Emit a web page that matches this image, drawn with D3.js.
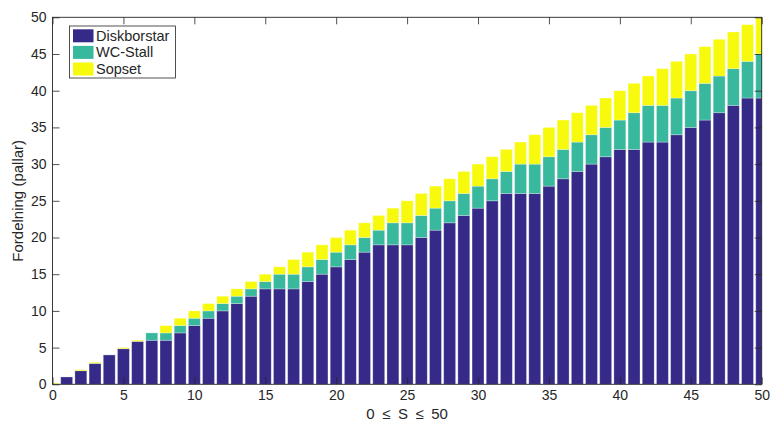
<!DOCTYPE html>
<html>
<head>
<meta charset="utf-8">
<script src="https://cdn.jsdelivr.net/npm/d3@7/dist/d3.min.js"></script>
<style>
  html, body { margin: 0; padding: 0; background: #fff; }
  svg { display: block; }
  text { font-family: "Liberation Sans", Arial, Helvetica, sans-serif; fill: #262626; }
</style>
</head>
<body>
<svg id="chart" width="772" height="424"></svg>
<script>
// ---- data ----
const categories = [0,1,2,3,4,5,6,7,8,9,10,11,12,13,14,15,16,17,18,19,20,21,22,23,24,25,26,27,28,29,30,31,32,33,34,35,36,37,38,39,40,41,42,43,44,45,46,47,48,49,50];
const diskborstar = [0,1,1.85,2.85,4,4.85,5.85,6,6,7,8,9,10,11,12,13,13,13,14,15,16,17,18,19,19,19,20,21,22,23,24,25,26,26,26,27,28,29,30,31,32,32,33,33,34,35,36,37,38,39,39];
const wcStall     = [0,0,0,0,0,0,0,1,1,1,1,1,1,1,1,1,2,2,2,2,2,2,2,2,3,3,3,3,3,3,3,3,3,4,4,4,4,4,4,4,4,5,5,5,5,5,5,5,5,5,6];
const sopset      = [0.15,0,0.15,0.15,0,0.15,0.15,0,1,1,1,1,1,1,1,1,1,2,2,2,2,2,2,2,2,3,3,3,3,3,3,3,3,3,4,4,4,4,4,4,4,4,4,5,5,5,5,5,5,5,5];
const seriesNames = ["Diskborstar", "WC-Stall", "Sopset"];
const seriesColors = ["#352a87", "#38b89d", "#f8fa0d"];
const xTicks = [0,5,10,15,20,25,30,35,40,45,50];
const yTicks = [0,5,10,15,20,25,30,35,40,45,50];

// ---- layout ----
const svg = d3.select("#chart");
const L = 52.5, R = 761.7, T = 17.3, B = 384.3;
const x = d3.scaleLinear().domain([0, 50]).range([L, R]);
const y = d3.scaleLinear().domain([0, 50]).range([B, T]);
const barW = 0.84;

const rows = categories.map((c, i) => ({ s: c, Diskborstar: diskborstar[i], "WC-Stall": wcStall[i], Sopset: sopset[i] }));
const stacked = d3.stack().keys(seriesNames)(rows);

svg.append("defs").append("clipPath").attr("id", "clip")
  .append("rect").attr("x", L).attr("y", T).attr("width", R - L).attr("height", B - T);

const g = svg.append("g").attr("clip-path", "url(#clip)");
stacked.forEach((layer, k) => {
  g.append("g").selectAll("rect").data(layer).join("rect")
    .attr("x", d => x(d.data.s - barW / 2))
    .attr("width", x(barW) - x(0))
    .attr("y", d => y(d[1]))
    .attr("height", d => Math.max(0, y(d[0]) - y(d[1])))
    .attr("fill", seriesColors[k])
    .attr("stroke", "#ffffff")
    .attr("stroke-opacity", 0.35)
    .attr("stroke-width", 0.8);
});

// ---- axes ----
const axisColor = "#262626";
const fs = 14;
function styleAxis(sel, showLabels) {
  sel.select(".domain").remove();
  sel.selectAll(".tick line").attr("stroke", axisColor).attr("stroke-width", 0.8);
  sel.selectAll(".tick text").attr("font-size", fs).attr("fill", axisColor)
     .style("display", showLabels ? null : "none");
}
svg.append("g").attr("transform", `translate(0,${B})`)
  .call(d3.axisBottom(x).tickValues(xTicks).tickSizeInner(-7).tickSizeOuter(0).tickPadding(6))
  .call(s => styleAxis(s, true));
svg.append("g").attr("transform", `translate(0,${T})`)
  .call(d3.axisTop(x).tickValues(xTicks).tickSizeInner(-7).tickSizeOuter(0))
  .call(s => styleAxis(s, false));
svg.append("g").attr("transform", `translate(${L},0)`)
  .call(d3.axisLeft(y).tickValues(yTicks).tickSizeInner(-7).tickSizeOuter(0).tickPadding(6))
  .call(s => styleAxis(s, true));
svg.append("g").attr("transform", `translate(${R},0)`)
  .call(d3.axisRight(y).tickValues(yTicks).tickSizeInner(-7).tickSizeOuter(0))
  .call(s => styleAxis(s, false));

svg.append("rect").attr("x", L).attr("y", T).attr("width", R - L).attr("height", B - T)
  .attr("fill", "none").attr("stroke", axisColor).attr("stroke-width", 0.9);

// ---- axis labels ----
svg.append("text").attr("x", (L + R) / 2).attr("y", 419).attr("text-anchor", "middle")
  .attr("font-size", 15).text("0\u2002\u2264\u2002S\u2002\u2264\u200250");
svg.append("text").attr("transform", `translate(23,${(T + B) / 2}) rotate(-90)`)
  .attr("text-anchor", "middle").attr("font-size", 15).text("Fordelning (pallar)");

// ---- legend ----
const lg = svg.append("g");
lg.append("rect").attr("x", 69.5).attr("y", 26).attr("width", 106).attr("height", 52)
  .attr("fill", "#fff").attr("stroke", axisColor).attr("stroke-width", 0.8);
seriesNames.forEach((n, i) => {
  const cy = 35.8 + i * 16.6;
  lg.append("rect").attr("x", 73).attr("y", cy - 6.5).attr("width", 20.5).attr("height", 13)
    .attr("fill", seriesColors[i]);
  lg.append("text").attr("x", 96).attr("y", cy + 5).attr("font-size", 14.5).text(n);
});
</script>
</body>
</html>
